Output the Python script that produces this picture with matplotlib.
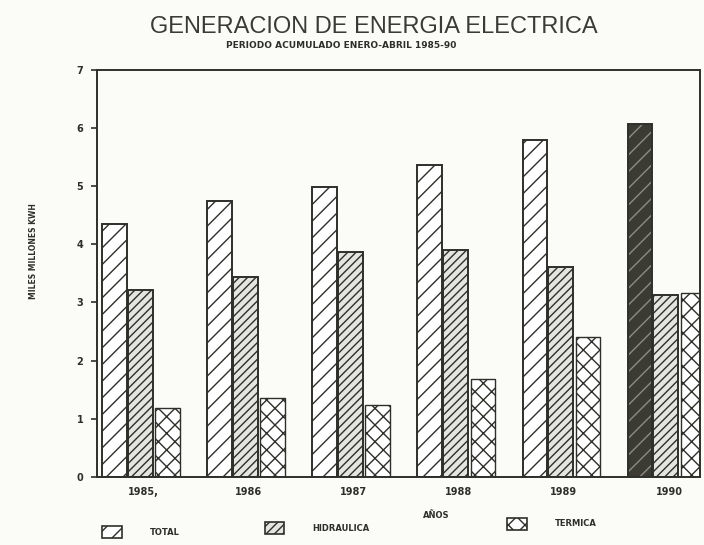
import matplotlib.pyplot as plt
import numpy as np

# Data (miles de millones de KWH)
years = ['1985,', '1986', '1987', '1988', '1989', '1990']
total = [4.35, 4.75, 4.98, 5.36, 5.80, 6.07]
hidraulica = [3.22, 3.44, 3.87, 3.90, 3.61, 3.12]
termica = [1.19, 1.36, 1.24, 1.68, 2.40, 3.17]

plt.rcParams['hatch.linewidth'] = 1.0
bg = '#fbfbf8'
ink = '#2e2e2a'

fig = plt.figure(figsize=(7.04, 5.45), dpi=100, facecolor=bg)
ax = fig.add_axes([0.138, 0.125, 0.857, 0.747], facecolor=bg)

x = np.arange(len(years))
w = 0.235

# TOTAL bars, the last one printed dark with light hatching
n = len(years)
ax.bar(x[:-1] - 0.245, total[:-1], w, color='white', edgecolor=ink, hatch='//', linewidth=1.4)
ax.bar(x[-1] - 0.245, total[-1], w, color='#3b3b34', edgecolor='#8c8c84', hatch='//', linewidth=0)
ax.bar(x[-1] - 0.245, total[-1], w, color='none', edgecolor=ink, linewidth=1.4)
ax.bar(x, hidraulica, w, color='#e4e4e0', edgecolor=ink, hatch='////', linewidth=1.4)
ax.bar(x + 0.26, termica, w, color='white', edgecolor=ink, hatch='xx', linewidth=1.0)

ax.set_xlim(-0.41, 5.33)
ax.set_ylim(0, 7)
ax.set_yticks(range(0, 8))
ax.set_yticklabels([str(v) for v in range(0, 8)], fontsize=7, fontweight='bold', color=ink)
ax.set_xticks(x + 0.03)
ax.set_xticklabels(years, fontsize=7, fontweight='bold', color=ink)
ax.tick_params(axis='y', length=4, width=1.2, color=ink, pad=6)
ax.tick_params(axis='x', length=0, pad=7)
for s in ax.spines.values():
    s.set_color(ink)
    s.set_linewidth(1.4)

# Titles and axis labels
fig.text(0.531, 0.95, 'GENERACION DE ENERGIA ELECTRICA', ha='center', va='center',
         fontsize=17, color='#3a3a36', family=['Liberation Sans Narrow', 'Liberation Sans', 'DejaVu Sans'])
fig.text(0.485, 0.916, 'PERIODO ACUMULADO ENERO-ABRIL 1985-90', ha='center', va='center',
         fontsize=6.5, fontweight='bold', color=ink)
fig.text(0.047, 0.54, 'MILES MILLONES KWH', rotation=90, ha='center', va='center',
         fontsize=5.5, fontweight='bold', color=ink)
fig.text(0.62, 0.055, 'AÑOS', ha='center', va='center', fontsize=6, fontweight='bold', color=ink)

# Legend drawn along the bottom
labels = ['TOTAL', 'HIDRAULICA', 'TERMICA']
faces = ['white', '#e4e4e0', 'white']
hatches = ['//', '////', 'xx']
lx = [0.145, 0.376, 0.72]
ly = [0.012, 0.020, 0.028]
for lab, fc, ht, px, py in zip(labels, faces, hatches, lx, ly):
    fig.patches.append(plt.Rectangle((px, py), 0.028, 0.022, transform=fig.transFigure,
                                     facecolor=fc, edgecolor=ink, hatch=ht, linewidth=1.2))
    fig.text(px + 0.068, py + 0.011, lab, ha='left', va='center', fontsize=6,
             fontweight='bold', color=ink)

plt.savefig('out.png', dpi=100, facecolor=bg)
